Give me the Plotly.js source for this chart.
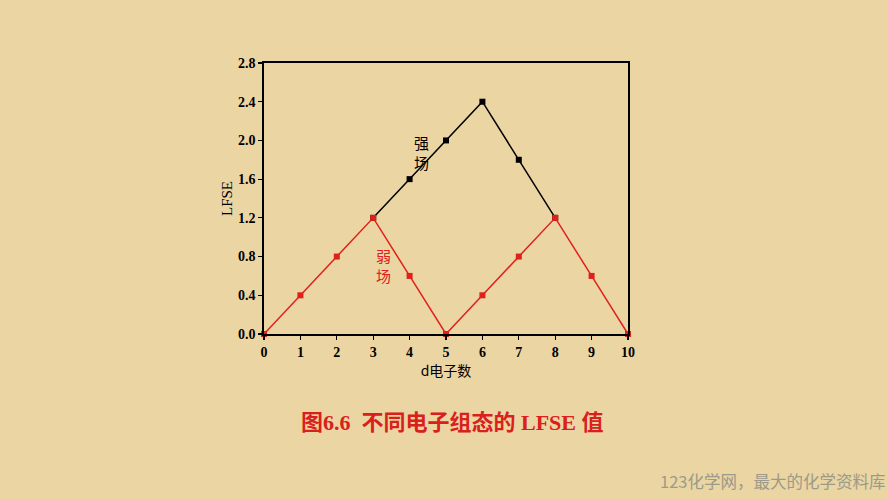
<!DOCTYPE html>
<html><head><meta charset="utf-8">
<script src="https://cdn.plot.ly/plotly-3.0.1.min.js"></script>
<style>html,body{margin:0;padding:0;background:#EAD5A3;}</style>
</head><body>
<div id="chart" style="width:888px;height:499px;"></div>
<script>
const electrons = [0,1,2,3,4,5,6,7,8,9,10];
const weakField = [0,0.4,0.8,1.2,0.6,0,0.4,0.8,1.2,0.6,0];
const strongX = [3,4,5,6,7,8];
const strongField = [1.2,1.6,2.0,2.4,1.8,1.2];
const yTicks = [0,0.4,0.8,1.2,1.6,2.0,2.4,2.8];
const yTickText = ['0.0','0.4','0.8','1.2','1.6','2.0','2.4','2.8'];

const serif = '"Liberation Serif", "Times New Roman", serif';
const traces = [
  {x: strongX, y: strongField, mode:'lines+markers', line:{color:'#000', width:1.5},
   marker:{symbol:'square', size:6, color:'#000'}, showlegend:false, cliponaxis:false},
  {x: electrons, y: weakField, mode:'lines+markers', line:{color:'#E0201B', width:1.5},
   marker:{symbol:'square', size:6, color:'#E0201B'}, showlegend:false, cliponaxis:false}
];
const L=264, R=628, T=63, B=334;
function px(x){return (x-L)/(R-L);}
function py(y){return (B-y)/(B-T);}
const layout = {
  width:888, height:499,
  paper_bgcolor:'#EAD5A3', plot_bgcolor:'rgba(0,0,0,0)',
  margin:{l:L, r:888-R, t:T, b:499-B},
  xaxis:{range:[0,10], tickvals:electrons, ticks:'outside', ticklen:4, tickwidth:1.2, tickcolor:'#000',
    showline:true, linecolor:'#000', linewidth:1.8, mirror:true, showgrid:false, zeroline:false,
    tickfont:{family:serif, size:14, color:'#000', weight:'bold'},
    title:{text:'d电子数', font:{family:'"Noto Sans CJK SC", serif', size:14, color:'#000'}, standoff:0}},
  yaxis:{range:[0,2.8], tickvals:yTicks, ticktext:yTickText, ticks:'outside', ticklen:4, tickwidth:1.2, tickcolor:'#000',
    showline:true, linecolor:'#000', linewidth:1.8, mirror:true, showgrid:false, zeroline:false,
    tickfont:{family:serif, size:14, color:'#000', weight:'bold'},
    title:{text:'LFSE', font:{family:serif, size:15, color:'#000'}, standoff:2}},
  annotations:[
    {x:4.34, y:1.88, xref:'x', yref:'y', text:'强<br>场', showarrow:false,
     font:{family:'"Noto Sans CJK SC", serif', size:15, color:'#000'}},
    {x:3.27, y:0.71, xref:'x', yref:'y', text:'弱<br>场', showarrow:false,
     font:{family:'"Noto Sans CJK SC", serif', size:15, color:'#E0201B'}},
    {x:px(452), y:py(422), xref:'paper', yref:'paper', xanchor:'center', yanchor:'middle',
     text:'图6.6  不同电子组态的 LFSE 值', showarrow:false,
     font:{family:'"Liberation Serif", "Noto Sans CJK SC", serif', size:22, color:'#D9201B', weight:'bold'}},
    {x:px(772), y:py(481), xref:'paper', yref:'paper', xanchor:'center', yanchor:'middle',
     text:'123化学网，最大的化学资料库', showarrow:false,
     font:{family:'"Noto Sans CJK SC", sans-serif', size:16.5, color:'#9C9A88'}}
  ]
};
Plotly.newPlot('chart', traces, layout, {displayModeBar:false, staticPlot:true});
</script>
</body></html>
